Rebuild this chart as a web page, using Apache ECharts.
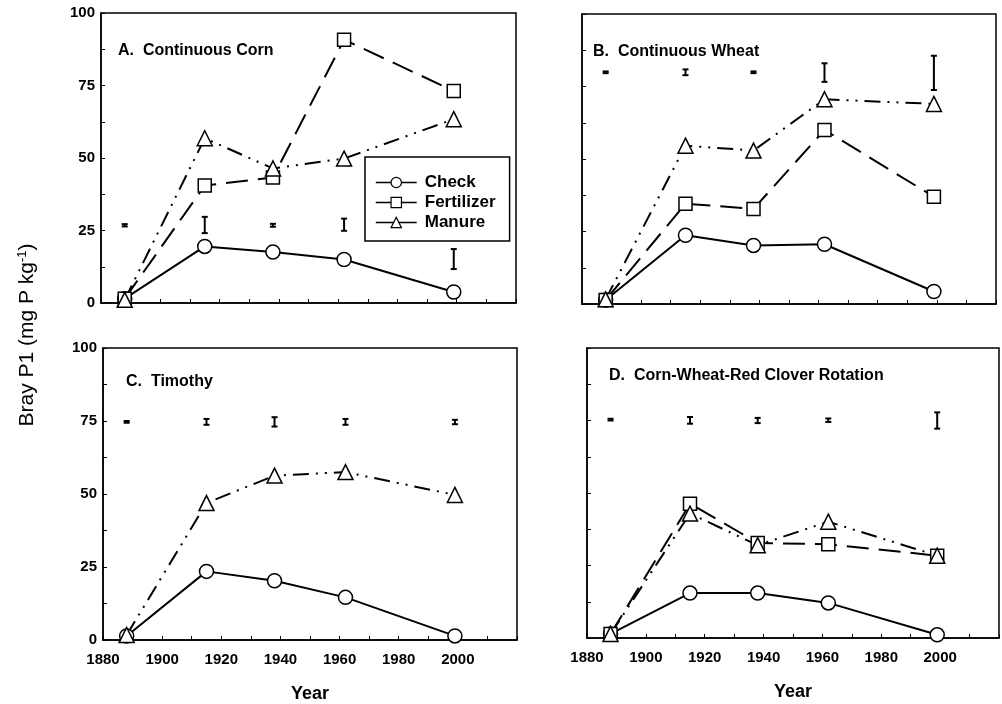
<!DOCTYPE html>
<html>
<head>
<meta charset="utf-8">
<script src="https://cdn.jsdelivr.net/npm/echarts@6/dist/echarts.min.js"></script>
<style>
  html, body { margin: 0; padding: 0; background: #fff; }
  #chart { width: 1002px; height: 704px; }
</style>
</head>
<body>
<div id="chart"></div>
<script>
// sampling years
const years = [1888, 1915, 1938, 1962, 1999]

// A. Continuous Corn
const cornCheck = [1.5, 19.5, 17.6, 15.0, 3.8]
const cornFert = [1.5, 40.5, 43.3, 90.8, 73.1]
const cornManure = [1.1, 56.8, 46.4, 49.8, 63.4]
const cornBarLow = [26.4, 24.1, 26.3, 24.9, 11.7]
const cornBarHigh = [27.2, 29.7, 27.3, 29.1, 18.6]

// B. Continuous Wheat
const wheatCheck = [1.4, 23.7, 20.2, 20.6, 4.3]
const wheatFert = [1.4, 34.6, 32.8, 60.0, 37.0]
const wheatManure = [1.6, 54.6, 52.9, 70.6, 69.0]
const wheatBarLow = [79.6, 78.9, 79.6, 76.6, 73.8]
const wheatBarHigh = [80.2, 80.9, 80.2, 83.0, 85.6]

// C. Timothy
const timCheck = [1.4, 23.5, 20.3, 14.6, 1.4]
const timManure = [1.7, 46.9, 56.3, 57.5, 49.7]
const timBarLow = [74.4, 73.7, 73.1, 73.7, 73.9]
const timBarHigh = [75.0, 75.7, 76.3, 75.7, 75.4]

// D. Corn-Wheat-Red Clover Rotation
const rotCheck = [1.4, 15.5, 15.5, 12.1, 1.1]
const rotFert = [1.4, 46.3, 32.8, 32.3, 28.4]
const rotManure = [1.4, 42.9, 32.0, 40.1, 28.4]
const rotBarLow = [75.0, 73.9, 74.1, 74.5, 72.2]
const rotBarHigh = [75.6, 76.2, 75.9, 75.7, 77.8]

const panelTitles = ['A.  Continuous Corn', 'B.  Continuous Wheat', 'C.  Timothy', 'D.  Corn-Wheat-Red Clover Rotation']

const font = "'Liberation Sans', Arial, sans-serif"

// 面板位置
const grids = [
    { left: 101, top: 13, width: 415, height: 290 },
    { left: 582, top: 14, width: 414, height: 290 },
    { left: 103, top: 348, width: 414, height: 292 },
    { left: 587, top: 348, width: 412, height: 290 },
]
const titlePos = [
    { left: 118, top: 43 },
    { left: 593, top: 44 },
    { left: 126, top: 374 },
    { left: 609, top: 368 },
]

const pair = (ys) => years.map((y, i) => [y, ys[i]])

const styles = {
    Check: { symbol: 'circle', size: 14, dash: 'solid' },
    Fertilizer: { symbol: 'rect', size: 13, dash: [22, 10] },
    Manure: { symbol: 'triangle', size: 15, dash: [16, 7, 2, 7, 2, 7] },
}

const lineSeries = (name, ys, idx) => ({
    name,
    type: 'line',
    xAxisIndex: idx,
    yAxisIndex: idx,
    data: pair(ys),
    symbol: styles[name].symbol,
    symbolSize: styles[name].size,
    showSymbol: true,
    lineStyle: { color: '#000', width: 2, type: styles[name].dash },
    itemStyle: { color: '#fff', borderColor: '#000', borderWidth: 1.5 },
    z: 3,
    animation: false,
})

// 误差棒
const barSeries = (lo, hi, idx) => ({
    type: 'custom',
    xAxisIndex: idx,
    yAxisIndex: idx,
    data: years.map((y, i) => [y, lo[i], hi[i]]),
    renderItem: (params, api) => {
        const a = api.coord([api.value(0), api.value(1)])
        const b = api.coord([api.value(0), api.value(2)])
        const w = 3
        const st = { stroke: '#000', lineWidth: 2 }
        return {
            type: 'group',
            children: [
                { type: 'line', shape: { x1: a[0], y1: a[1], x2: b[0], y2: b[1] }, style: st },
                { type: 'line', shape: { x1: a[0] - w, y1: a[1], x2: a[0] + w, y2: a[1] }, style: st },
                { type: 'line', shape: { x1: b[0] - w, y1: b[1], x2: b[0] + w, y2: b[1] }, style: st },
            ],
        }
    },
    animation: false,
})

const xAxes = grids.map((g, i) => ({
    type: 'value',
    gridIndex: i,
    min: 1880,
    max: 2020,
    interval: 10,
    axisLine: { show: true, lineStyle: { color: '#000', width: 1.5 } },
    axisTick: { show: true, inside: true, length: 4, lineStyle: { color: '#000' } },
    axisLabel: {
        show: i >= 2,
        color: '#000',
        fontFamily: font,
        fontWeight: 'bold',
        fontSize: 15,
        margin: 12,
        showMaxLabel: true,
        formatter: (v) => (v % 20 === 0 && v <= 2000 ? String(v) : ''),
    },
    splitLine: { show: false },
    name: i >= 2 ? 'Year' : '',
    nameLocation: 'middle',
    nameGap: 45,
    nameTextStyle: { color: '#000', fontFamily: font, fontWeight: 'bold', fontSize: 18 },
}))

const yAxes = grids.map((g, i) => ({
    type: 'value',
    gridIndex: i,
    min: 0,
    max: 100,
    interval: 12.5,
    axisLine: { show: true, lineStyle: { color: '#000', width: 1.5 } },
    axisTick: { show: true, inside: true, length: 4, lineStyle: { color: '#000' } },
    axisLabel: {
        show: i % 2 === 0,
        color: '#000',
        fontFamily: font,
        fontWeight: 'bold',
        fontSize: 15,
        margin: 6,
        formatter: (v) => (v % 25 === 0 ? String(v) : ''),
    },
    splitLine: { show: false },
}))

const series = [
    lineSeries('Check', cornCheck, 0),
    lineSeries('Fertilizer', cornFert, 0),
    lineSeries('Manure', cornManure, 0),
    barSeries(cornBarLow, cornBarHigh, 0),
    lineSeries('Check', wheatCheck, 1),
    lineSeries('Fertilizer', wheatFert, 1),
    lineSeries('Manure', wheatManure, 1),
    barSeries(wheatBarLow, wheatBarHigh, 1),
    lineSeries('Check', timCheck, 2),
    lineSeries('Manure', timManure, 2),
    barSeries(timBarLow, timBarHigh, 2),
    lineSeries('Check', rotCheck, 3),
    lineSeries('Fertilizer', rotFert, 3),
    lineSeries('Manure', rotManure, 3),
    barSeries(rotBarLow, rotBarHigh, 3),
]

const chart = echarts.init(document.getElementById('chart'), null, { renderer: 'canvas' })
chart.setOption({
    backgroundColor: '#fff',
    animation: false,
    grid: grids.map((g) => ({ ...g, show: true, borderColor: '#000', borderWidth: 1.5, backgroundColor: 'transparent' })),
    xAxis: xAxes,
    yAxis: yAxes,
    title: panelTitles.map((t, i) => ({
        text: t,
        left: titlePos[i].left,
        top: titlePos[i].top,
        padding: 0,
        textStyle: { color: '#000', fontFamily: font, fontWeight: 'bold', fontSize: 16 },
    })),
    legend: {
        data: ['Check', 'Fertilizer', 'Manure'],
        orient: 'vertical',
        left: 365,
        top: 157,
        padding: [17, 14, 10, 10],
        itemGap: 3,
        itemWidth: 41,
        itemHeight: 13,
        borderColor: '#000',
        borderWidth: 1.5,
        backgroundColor: '#fff',
        selectedMode: false,
        lineStyle: { type: 'solid', width: 1.5 },
        itemStyle: { borderWidth: 1.2 },
        textStyle: { color: '#000', fontFamily: font, fontWeight: 'bold', fontSize: 17, lineHeight: 15, padding: [0, 0, 0, 3] },
    },
    graphic: [
        {
            type: 'text',
            x: 27,
            y: 335,
            rotation: Math.PI / 2,
            style: {
                text: 'Bray P1 (mg P kg{sup|-1})',
                fill: '#000',
                font: "21px 'Liberation Sans', Arial, sans-serif",
                align: 'center',
                verticalAlign: 'middle',
                rich: { sup: { fontSize: 13, verticalAlign: 'top', padding: [0, 0, 9, 0] } },
            },
        },
    ],
    series,
})
</script>
</body>
</html>
